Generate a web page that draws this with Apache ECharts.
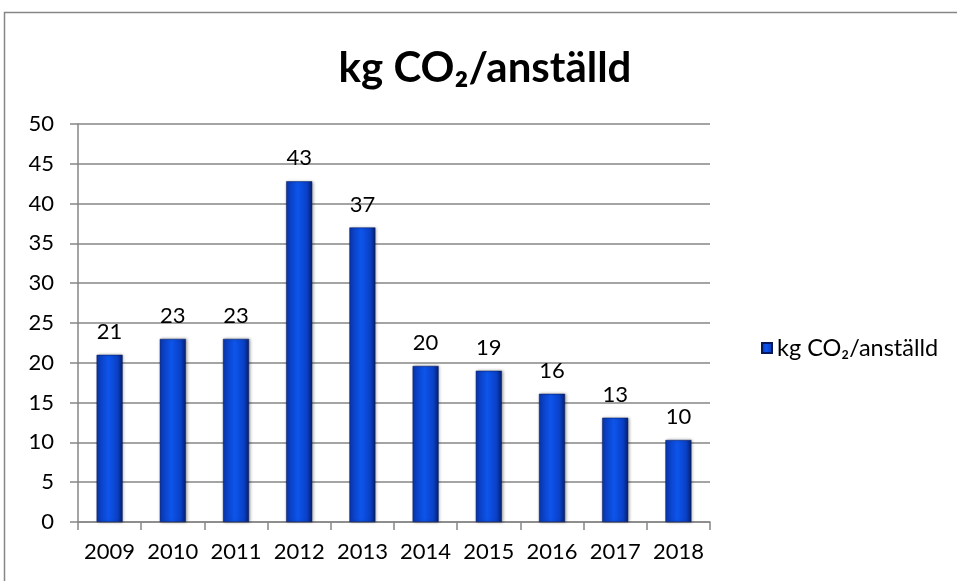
<!DOCTYPE html>
<html>
<head>
<meta charset="utf-8">
<script src="https://cdn.jsdelivr.net/npm/echarts@6/dist/echarts.min.js"></script>
<style>
  html, body { margin: 0; padding: 0; background: #fff; }
  #chart { width: 957px; height: 581px; }
</style>
</head>
<body>
<div id="chart"></div>
<script>
  // data
  const years = ['2009', '2010', '2011', '2012', '2013', '2014', '2015', '2016', '2017', '2018'];
  const kgPerEmployee = [21, 23, 23, 42.8, 37, 19.6, 19, 16.1, 13.1, 10.3];
  const seriesName = 'kg CO₂/anställd';

  const font = 'Lato, "Open Sans", sans-serif';
  const grey = '#868686';

  // bar fill: dark edges, bright middle
  const barFill = new echarts.graphic.LinearGradient(0, 0, 1, 0, [
    { offset: 0, color: '#0a36b0' },
    { offset: 0.45, color: '#0d55ec' },
    { offset: 0.8, color: '#0a40c6' },
    { offset: 1, color: '#061f6e' }
  ]);

  const chart = echarts.init(document.getElementById('chart'));
  chart.setOption({
    backgroundColor: '#fff',
    animation: false,
    title: {
      text: 'kg CO₂/anställd',
      left: 480,
      top: 42,
      textAlign: 'center',
      textStyle: {
        fontFamily: font,
        fontWeight: 'bold',
        fontSize: 42,
        color: '#000'
      }
    },
    graphic: [{
      type: 'rect',
      shape: { x: 4.5, y: 12.5, width: 1200, height: 1200 },
      style: { fill: 'none', stroke: grey, lineWidth: 1.5 },
      silent: true
    }],
    legend: {
      left: 756,
      top: 331,
      itemWidth: 10,
      itemHeight: 10,
      icon: 'rect',
      textStyle: { fontFamily: font, fontSize: 23.5, color: '#000' },
      data: [seriesName]
    },
    grid: {
      left: 78,
      right: 247,
      top: 124,
      bottom: 59
    },
    xAxis: {
      type: 'category',
      data: years,
      axisLine: { lineStyle: { color: grey, width: 1.5 } },
      axisTick: { show: true, interval: 0, length: 8, lineStyle: { color: grey, width: 1.5 } },
      axisLabel: {
        interval: 0,
        margin: 19,
        fontFamily: font,
        fontSize: 22,
        color: '#000'
      },
      splitLine: { show: false }
    },
    yAxis: {
      type: 'value',
      min: 0,
      max: 50,
      interval: 5,
      axisLine: { show: true, lineStyle: { color: grey, width: 1.5 } },
      axisTick: { show: true, length: 8, lineStyle: { color: grey, width: 1.5 } },
      axisLabel: {
        margin: 24,
        fontFamily: font,
        fontSize: 22,
        color: '#000'
      },
      splitLine: { show: true, lineStyle: { color: grey, width: 1.5 } }
    },
    series: [{
      name: seriesName,
      type: 'bar',
      barWidth: 26,
      data: kgPerEmployee,
      itemStyle: {
        color: barFill,
        borderColor: '#05185a',
        borderWidth: 0.5,
        shadowColor: 'rgba(0,0,0,0.35)',
        shadowBlur: 3,
        shadowOffsetX: 1
      },
      label: {
        show: true,
        position: 'top',
        distance: 12,
        fontFamily: font,
        fontSize: 22,
        color: '#000',
        formatter: p => Math.round(p.value)
      }
    }]
  });
</script>
</body>
</html>
